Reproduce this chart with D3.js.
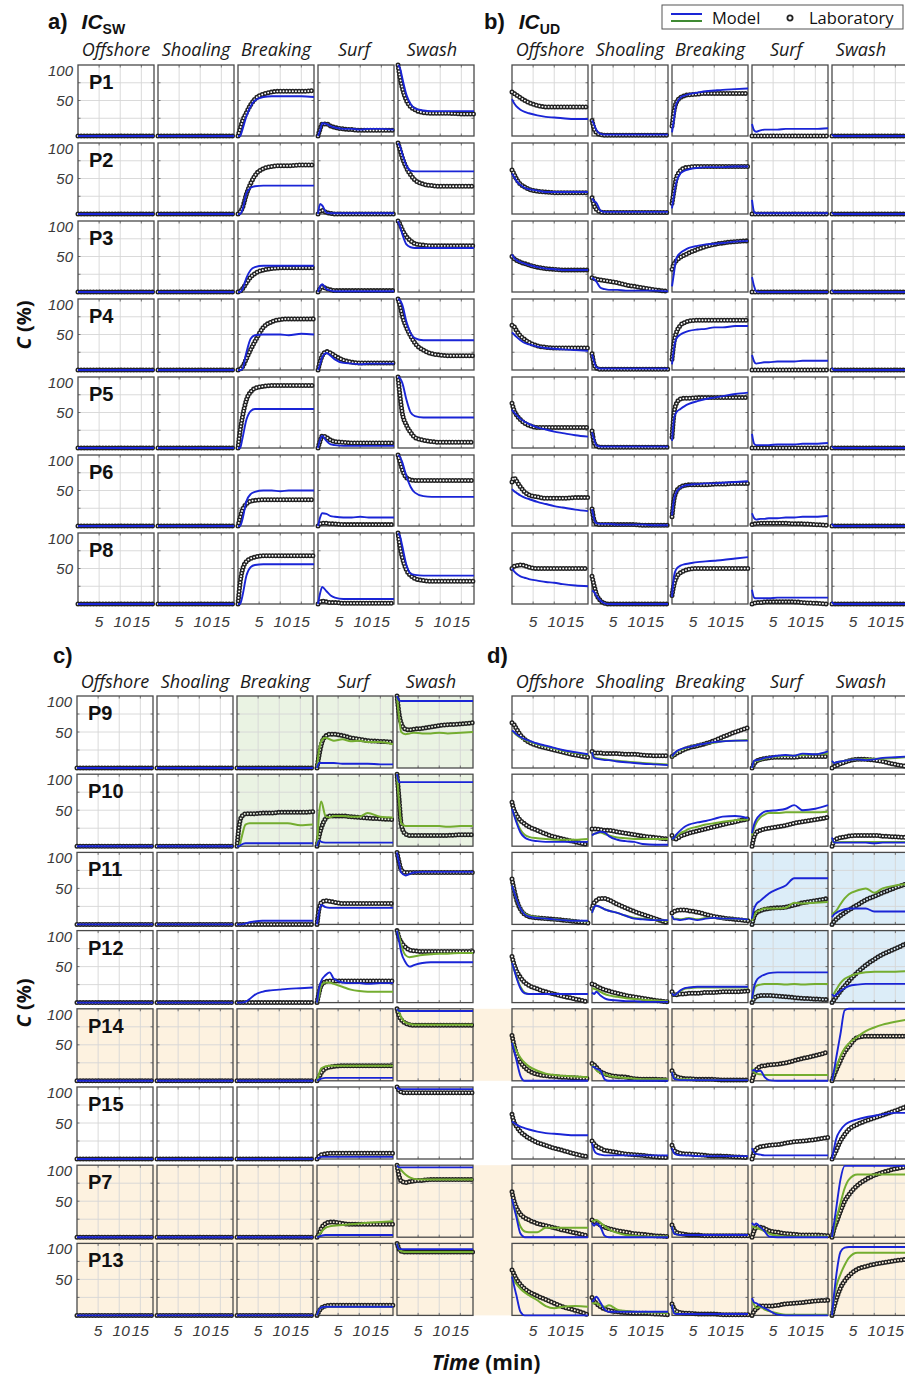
<!DOCTYPE html>
<html><head><meta charset="utf-8">
<script src="https://cdn.jsdelivr.net/npm/d3@7"></script>
<style>body{margin:0;background:#fff}svg{display:block}</style>
</head><body>
<svg id="chart" width="905" height="1378"></svg>
<script>
// ---------- data ----------
const times = [0, 0.5, 1, 2, 3, 4, 6, 8, 10, 12, 15, 18];
const zones = ["Offshore", "Shoaling", "Breaking", "Surf", "Swash"];
const rowsTop = ["P1", "P2", "P3", "P4", "P5", "P6", "P8"];
const rowsBottom = ["P9", "P10", "P11", "P12", "P14", "P15", "P7", "P13"];
const xTickVals = [5, 10, 15];
const yTickVals = [50, 100];
const yGridVals = [25, 50, 75];
const z = [0, 0, 0, 0, 0, 0, 0, 0, 0, 0, 0, 0];

// panel a) IC_SW
const aModel = [
  [z, z, [0,0,8,28,42,50,55,56,56,56,56,55], [0,8,18,17,14,12,10,10,9,10,10,9], [100,95,82,58,45,39,36,35,35,35,35,35]],
  [z, z, [0,0,5,29,37,39,40,40,40,40,40,40], [0,14,12,2,1,1,1,1,1,1,1,1], [100,95,85,68,61,60,60,60,60,60,60,60]],
  [z, z, [0,0,3,20,31,35,37,37,37,37,37,37], [0,8,11,4,2,1,1,1,1,1,1,1], [100,92,82,67,63,62,62,62,62,62,62,62]],
  [z, z, [0,0,1,25,44,49,50,50,50,49,51,50], [0,8,18,24,20,15,10,9,8,9,9,9], [100,98,92,68,52,45,42,42,42,42,42,42]],
  [z, z, [0,0,12,40,52,55,55,55,55,55,55,55], [0,12,17,10,5,4,3,3,3,3,3,3], [100,98,92,68,50,45,43,43,43,43,43,43]],
  [z, z, [0,0,8,35,45,48,50,50,49,50,50,50], [0,12,18,17,14,13,12,12,13,12,12,12], [100,97,90,70,55,47,42,41,41,41,41,41]],
  [z, z, [0,0,10,40,52,55,56,56,56,56,56,56], [0,15,24,18,12,9,7,7,7,7,7,7], [100,95,82,55,43,41,40,40,40,40,40,40]]
];
const aLab = [
  [z, z, [0,10,20,33,44,52,59,62,63,63,63,64], [0,10,17,17,14,12,10,9,8,8,8,8], [100,82,68,50,41,37,33,32,32,32,31,31]],
  [z, z, [0,3,8,28,43,54,64,67,68,68,69,69], [0,4,5,2,1,0,0,0,0,0,0,0], [100,90,80,65,55,48,42,40,39,39,39,39]],
  [z, z, [0,1,4,13,21,26,31,33,34,34,34,34], [0,5,7,5,3,2,2,2,2,2,2,2], [100,95,88,78,72,68,66,65,65,65,65,65]],
  [z, z, [0,1,4,16,29,40,60,68,71,72,72,72], [0,12,20,26,24,20,14,11,10,10,10,10], [100,90,77,60,48,38,28,23,21,20,20,20]],
  [z, z, [0,24,42,68,79,84,87,88,88,88,88,88], [0,10,17,15,11,9,8,7,7,7,7,7], [100,72,50,32,22,15,11,9,8,8,8,8]],
  [z, z, [0,12,22,31,35,36,37,37,37,37,37,37], [0,3,4,4,3,3,2,2,2,2,2,2], [100,90,80,68,65,64,64,64,64,64,64,64]],
  [z, z, [0,30,47,60,64,66,68,68,68,68,68,68], [0,3,4,3,2,2,1,1,1,1,1,1], [100,80,66,48,40,36,33,32,32,32,32,32]]
];

// panel b) IC_UD
const bModel = [
  [[52,46,42,37,34,32,29,27,26,25,24,24], [22,16,9,3,2,2,2,2,2,2,2,2], [5,25,45,54,57,59,61,63,64,65,66,67], [17,8,6,8,9,9,9,10,10,10,10,11], [2,0,0,0,0,0,0,0,0,0,0,0]],
  [[57,52,47,41,37,35,33,31,31,31,31,31], [22,18,16,5,3,3,3,3,3,3,3,3], [8,28,44,57,61,63,65,66,66,66,67,67], [20,3,1,1,1,1,1,1,1,1,1,1], [2,0,0,0,0,0,0,0,0,0,0,0]],
  [[53,48,45,42,40,38,35,33,32,31,31,31], [20,18,15,6,4,3,3,2,2,2,2,1], [8,28,47,55,59,62,65,67,68,69,71,72], [21,8,1,0,0,0,0,0,0,0,0,0], [3,0,0,0,0,0,0,0,0,0,0,0]],
  [[53,50,47,42,38,36,33,31,30,29,28,27], [22,12,4,2,2,2,2,2,2,2,2,2], [8,32,44,50,53,55,57,58,60,60,62,62], [21,12,9,10,11,11,12,12,12,13,13,13], [3,0,0,0,0,0,0,0,0,0,0,0]],
  [[54,50,47,41,37,34,29,26,23,21,18,16], [22,12,4,2,2,2,2,2,2,2,2,2], [10,42,50,55,59,62,66,69,71,73,76,78], [20,6,4,4,4,4,5,5,5,6,6,7], [2,0,0,0,0,0,0,0,0,0,0,0]],
  [[52,49,47,43,40,38,34,31,28,26,23,21], [24,10,4,3,3,3,2,2,2,2,1,1], [15,38,47,54,57,58,59,60,60,61,62,63], [18,11,9,10,10,11,11,12,12,13,13,14], [3,0,0,0,0,0,0,0,0,0,0,0]],
  [[50,46,43,39,37,35,33,31,30,28,26,25], [19,17,12,5,1,0,0,0,0,0,0,0], [10,40,49,54,56,57,59,60,61,62,64,66], [20,9,8,8,8,8,9,9,9,9,9,9], [3,0,0,0,0,0,0,0,0,0,0,0]]
];
const bLab = [
  [[62,60,58,54,50,47,43,41,41,41,41,41], [22,10,5,2,1,1,1,1,1,1,1,1], [14,36,47,54,57,58,59,60,60,60,60,60], z, z],
  [[62,56,50,42,38,35,32,31,30,30,30,30], [23,12,7,3,2,2,2,2,2,2,2,2], [15,34,50,61,65,66,67,67,67,67,67,67], z, z],
  [[50,47,45,42,40,38,35,33,32,31,31,31], [20,19,18,17,16,15,13,10,8,6,3,1], [32,40,44,49,52,55,60,64,67,69,71,72], z, z],
  [[63,61,56,48,43,39,34,32,31,31,31,31], [23,8,3,1,1,1,1,1,1,1,1,1], [15,40,52,63,67,69,70,70,70,70,70,70], z, z],
  [[63,53,47,40,35,32,29,29,29,29,29,29], [24,8,3,1,1,1,1,1,1,1,1,1], [15,50,62,69,70,70,71,71,71,71,71,71], z, z],
  [[62,68,64,55,48,44,41,39,39,39,40,40], [24,8,3,2,2,2,2,2,2,1,1,1], [13,38,48,55,57,58,58,58,59,59,60,60], [2,3,3,4,4,4,4,4,3,3,2,1], z],
  [[50,53,54,55,54,52,50,50,50,50,50,50], [39,26,15,5,1,0,0,0,0,0,0,0], [12,28,37,44,47,49,50,50,50,50,50,50], [0,1,2,2,3,3,3,3,3,2,1,0], z]
];

// panel c)
const cModel = [
  [z, z, z, [0,7,7,7,7,7,6,6,6,6,5,5], [100,94,93,93,93,93,93,93,93,93,93,93]],
  [z, z, [0,0,2,4,4,4,4,4,4,4,4,4], [0,8,6,5,5,5,5,5,5,5,5,5], [100,89,89,89,89,89,89,89,89,89,89,89]],
  [z, z, [0,0,0,1,3,4,5,5,5,5,5,5], [0,18,27,24,23,23,23,23,23,23,23,23], [100,85,72,68,70,72,73,73,73,73,73,73]],
  [z, z, [0,0,0,1,5,10,15,17,18,19,20,21], [0,20,30,38,42,33,28,27,27,26,27,27], [100,85,70,56,50,52,55,56,56,56,56,56]],
  [z, z, z, [0,2,3,4,4,4,4,4,4,4,4,4], [100,97,97,97,97,97,97,97,97,97,97,97]],
  [z, z, z, [0,2,3,3,3,3,3,3,3,3,3,3], [100,97,97,97,97,97,97,97,97,97,97,97]],
  [z, z, z, [0,1,2,3,3,3,3,3,3,3,3,3], [100,97,97,97,97,97,97,97,97,97,97,97]],
  [z, z, z, [0,8,11,12,12,12,12,12,12,12,12,12], [100,92,92,92,92,92,92,92,92,92,92,92]]
];
const cModel2 = [
  [null, null, null, [0,25,37,42,40,38,40,37,38,36,36,33], [100,70,50,47,48,49,48,48,49,48,49,50]],
  [null, null, [0,0,10,30,32,32,32,32,32,32,29,30], [0,45,62,42,40,42,42,41,41,46,41,40], [100,60,32,28,28,28,28,28,28,27,28,28]],
  [null, null, null, null, null],
  [null, null, null, [0,10,24,28,28,26,22,18,16,15,15,15], [100,92,80,66,63,64,66,67,68,68,69,69]],
  [null, null, null, [0,10,17,20,21,21,21,21,21,21,21,21], [100,95,88,81,79,78,78,78,78,78,78,78]],
  [null, null, null, null, null],
  [null, null, null, [0,3,7,13,15,16,17,18,19,20,21,22], [100,97,93,87,83,81,80,80,80,80,80,80]],
  [null, null, null, [0,8,11,12,12,12,12,12,12,12,12,12], [100,92,89,88,88,88,88,88,88,88,88,88]]
];
const cLab = [
  [z, z, z, [0,18,32,44,47,47,45,42,40,38,37,36], [100,75,62,54,53,54,55,57,59,60,61,63]],
  [z, z, [0,28,40,45,45,45,46,46,47,47,47,48], [0,14,25,38,42,42,42,41,40,39,38,37], [100,65,30,17,15,15,15,15,15,15,16,16]],
  [z, z, z, [0,22,30,33,32,31,29,29,29,29,29,29], [100,86,76,72,72,72,72,72,72,72,72,72]],
  [z, z, z, [0,14,24,29,30,30,30,30,30,30,30,30], [100,90,84,77,73,72,71,71,71,71,71,71]],
  [z, z, z, [0,5,11,17,19,20,21,21,21,21,21,21], [100,90,85,80,78,77,77,77,77,77,77,77]],
  [z, z, z, [0,4,6,7,8,8,8,8,8,8,8,8], [100,95,93,92,92,92,92,92,92,92,92,92]],
  [z, z, z, [0,5,12,19,21,21,19,18,18,18,18,18], [100,85,78,76,77,78,79,80,80,80,80,80]],
  [z, z, z, [0,6,10,13,14,14,14,14,14,14,14,14], [100,92,89,88,88,88,88,88,88,88,88,88]]
];

// panel d)
const dModel = [
  [[52,50,47,43,40,38,34,31,28,25,22,19], [22,14,13,12,11,11,9,8,7,6,5,4], [16,20,23,26,28,29,32,34,36,37,38,38], [0,10,11,12,14,15,17,18,17,20,19,23], [10,7,8,9,10,11,12,11,12,14,15,16]],
  [[52,43,34,19,12,9,7,6,6,6,6,6], [15,17,18,20,19,14,9,7,6,3,2,2], [10,12,16,22,27,30,33,35,38,41,42,39], [18,30,37,44,48,49,50,52,57,50,52,57], [12,5,5,5,5,5,5,5,4,5,5,5]],
  [[54,45,36,22,14,11,9,8,7,6,5,5], [16,24,26,24,21,19,16,12,8,7,6,6], [12,7,7,6,7,8,6,8,9,8,8,7], [8,22,28,33,38,43,49,54,64,64,64,64], [10,14,16,19,21,22,22,22,18,18,18,18]],
  [[55,46,36,20,13,12,12,12,12,12,12,12], [14,12,15,10,6,4,3,2,2,1,1,1], [13,10,12,17,20,21,22,22,22,22,22,22], [5,22,30,36,39,41,42,42,42,42,42,42], [12,9,11,16,20,23,25,26,26,26,26,26]],
  [[53,42,30,7,0,0,0,0,0,0,0,0], [20,19,17,14,2,0,0,0,0,0,0,0], [12,3,2,1,1,1,1,1,1,1,1,1], [14,15,13,14,5,1,0,0,0,0,0,0], [0,15,32,65,98,100,100,100,100,100,100,100]],
  [[52,50,48,45,43,41,38,36,35,34,33,33], [22,12,8,6,5,5,5,5,5,5,5,5], [15,8,6,5,5,5,4,4,4,4,4,4], [15,9,7,6,5,5,5,5,5,5,5,5], [0,15,28,40,47,51,55,58,60,62,64,64]],
  [[53,41,29,5,0,0,0,0,0,0,0,0], [20,16,19,14,2,0,0,0,0,0,0,0], [15,5,4,3,3,3,3,3,3,3,3,3], [20,17,19,14,8,1,0,0,0,0,0,0], [0,20,40,80,99,99,99,99,99,99,99,99]],
  [[54,41,29,5,0,0,0,0,0,0,0,0], [19,22,26,18,8,5,5,5,5,5,5,5], [15,3,2,2,2,2,2,2,2,2,2,2], [24,18,17,13,10,7,1,0,0,0,0,0], [0,30,55,88,94,95,95,95,95,95,95,95]]
];
const dModel2 = [
  [[51,49,46,42,39,37,33,30,27,24,21,18], [22,15,14,13,12,11,10,9,8,7,6,5], [15,19,22,25,27,29,32,34,35,37,38,39], [0,9,10,11,13,15,16,17,17,18,19,20], [9,7,8,9,10,11,12,12,13,13,14,15]],
  [[52,44,36,23,16,13,11,10,9,9,9,10], [16,17,18,19,17,15,12,11,10,10,10,10], [10,12,14,18,21,24,27,30,32,34,36,37], [15,25,32,40,44,46,46,47,47,47,47,48], [10,5,5,6,6,6,6,6,6,6,6,6]],
  [[54,45,36,22,15,12,10,8,7,6,5,4], [16,24,26,24,21,19,16,12,9,8,6,5], [12,8,8,7,8,9,7,9,9,8,8,7], [5,12,17,20,22,22,22,23,30,29,30,31], [14,16,19,28,36,42,47,50,44,50,54,56]],
  [[55,46,37,22,14,12,12,12,12,12,12,12], [20,19,18,15,12,10,8,6,5,4,3,2], [13,10,12,16,19,20,21,21,21,21,21,21], [4,18,23,25,26,26,26,25,26,25,26,26], [10,13,18,27,33,36,40,42,43,43,43,44]],
  [[53,48,42,32,25,20,14,10,8,7,6,5], [22,19,15,11,9,7,5,4,3,2,2,2], [12,4,3,2,2,2,1,1,1,1,1,1], [18,12,10,9,8,8,8,8,8,8,8,8], [0,10,18,34,45,52,61,69,74,78,82,85]],
  [null, null, null, null, null],
  [[53,42,32,15,8,7,7,13,13,13,13,13], [22,23,24,20,15,11,6,3,2,1,1,1], [15,6,4,3,3,3,3,3,3,3,3,3], [15,14,13,11,8,5,2,1,1,1,1,1], [0,12,24,47,68,80,87,87,87,87,87,87]],
  [[54,48,44,37,32,28,21,13,10,12,13,12], [17,17,17,14,12,14,8,6,5,4,4,3], [15,4,3,2,2,2,2,2,2,2,2,2], [21,15,10,12,8,6,3,1,1,1,1,1], [0,25,40,57,70,80,87,87,87,87,87,87]]
];
const dLab = [
  [[63,60,55,46,40,36,31,28,25,22,18,15], [23,21,21,21,20,20,20,19,19,18,17,17], [16,18,20,23,26,28,31,34,38,43,50,56], [0,6,9,12,13,14,15,15,15,16,16,16], [0,2,3,6,8,10,12,12,11,9,5,2]],
  [[61,50,44,36,31,27,22,17,13,10,6,2], [24,24,24,23,22,22,20,18,16,14,12,10], [15,10,10,14,16,18,21,24,27,30,34,38], [0,13,19,22,24,25,27,29,32,34,37,40], [0,8,10,12,13,14,15,15,15,14,13,12]],
  [[63,48,36,21,14,11,9,8,7,6,4,2], [22,30,33,36,36,34,28,23,18,14,8,2], [16,18,19,20,20,19,17,14,11,9,7,5], [0,11,16,19,21,22,23,24,27,30,33,36], [0,4,7,12,16,20,27,34,39,44,51,57]],
  [[64,53,45,35,28,24,19,15,12,9,5,1], [26,25,23,20,18,16,13,10,8,6,3,1], [15,11,11,12,12,13,13,14,14,15,15,16], [0,6,8,10,10,10,9,8,7,6,5,4], [0,4,8,16,23,30,42,52,60,67,75,83]],
  [[63,49,38,26,19,14,9,7,6,5,4,3], [24,22,19,13,10,8,6,5,3,2,2,1], [14,8,6,4,3,3,2,2,2,1,1,1], [0,10,15,20,21,22,23,25,28,31,35,40], [0,8,15,28,40,48,60,62,62,62,62,62]],
  [[62,51,46,38,33,29,23,19,15,12,7,3], [25,21,18,15,12,11,9,7,6,5,3,2], [19,12,10,8,7,7,6,5,4,4,3,2], [0,9,14,17,18,19,20,22,24,25,27,30], [0,6,12,25,34,41,48,53,57,61,67,74]],
  [[63,50,42,32,27,24,19,16,13,10,6,2], [24,22,20,17,14,12,9,7,5,4,2,1], [17,10,7,5,4,3,3,2,2,2,2,2], [0,9,14,14,12,9,7,5,4,3,3,2], [0,12,20,36,50,59,72,80,86,90,95,98]],
  [[63,57,51,43,37,33,27,22,17,12,7,1], [25,20,17,12,9,7,5,4,3,3,2,1], [16,9,6,4,3,3,2,2,2,1,1,1], [0,6,9,13,13,13,14,16,17,18,20,21], [0,12,22,38,48,55,64,68,71,73,76,78]]
];

// ---------- drawing ----------
const C_BLUE = "#1a25d6", C_GREEN = "#74ad30", C_LAB = "#222222";
const BG_GREEN = "#eaf3e3", BG_BLUE = "#dcedf8", BG_ORANGE = "#fdf2e0";
const svg = d3.select("#chart");
const CW = 76, CS = 80;
const TICKF = "'Liberation Sans', Arial, sans-serif";
const HEADF = "'Open Sans', 'Liberation Sans', sans-serif";
const DOTS = "0 3.1";

function drawPanel(p) {
  const g = svg.append("g");
  zones.forEach((zn, c) => {
    g.append("text").attr("x", p.x0 + c * CS + CW / 2 + p.hOff[c]).attr("y", p.headY)
      .attr("text-anchor", "middle").attr("font-family", HEADF).attr("font-style", "italic")
      .attr("font-size", 18).attr("fill", "#1a1a1a").text(zn);
  });
  p.rows.forEach((rowName, r) => {
    const top = p.y0 + r * p.rs;
    zones.forEach((zn, c) => {
      const left = p.x0 + c * CS;
      const x = d3.scaleLinear().domain([0, 18]).range([left, left + CW]);
      const y = d3.scaleLinear().domain([0, 100]).range([top + p.h, top]);
      const bg = p.bg(r, c);
      const cg = g.append("g");
      cg.append("rect").attr("x", left).attr("y", top).attr("width", CW).attr("height", p.h)
        .attr("fill", bg);
      xTickVals.forEach(t => {
        cg.append("line").attr("x1", x(t)).attr("x2", x(t)).attr("y1", top).attr("y2", top + p.h)
          .attr("stroke", "#d6d6d6").attr("stroke-width", 0.9);
        cg.append("line").attr("x1", x(t)).attr("x2", x(t)).attr("y1", top + p.h).attr("y2", top + p.h - 2.5)
          .attr("stroke", "#555").attr("stroke-width", 0.8);
        cg.append("line").attr("x1", x(t)).attr("x2", x(t)).attr("y1", top).attr("y2", top + 2.5)
          .attr("stroke", "#555").attr("stroke-width", 0.8);
      });
      yGridVals.forEach(v => {
        cg.append("line").attr("x1", left).attr("x2", left + CW).attr("y1", y(v)).attr("y2", y(v))
          .attr("stroke", "#d6d6d6").attr("stroke-width", 0.9);
        cg.append("line").attr("x1", left).attr("x2", left + 2.5).attr("y1", y(v)).attr("y2", y(v))
          .attr("stroke", "#555").attr("stroke-width", 0.8);
        cg.append("line").attr("x1", left + CW - 2.5).attr("x2", left + CW).attr("y1", y(v)).attr("y2", y(v))
          .attr("stroke", "#555").attr("stroke-width", 0.8);
      });
      cg.append("rect").attr("x", left).attr("y", top).attr("width", CW).attr("height", p.h)
        .attr("fill", "none").attr("stroke", "#4a4a4a").attr("stroke-width", 1.3);

      const line = d3.line().x((d, i) => x(times[i])).y(d => y(d)).curve(d3.curveMonotoneX);
      const lab = p.lab[r][c];
      if (lab) {
        cg.append("path").attr("d", line(lab)).attr("fill", "none").attr("stroke", C_LAB)
          .attr("stroke-width", 5).attr("stroke-linecap", "round").attr("stroke-dasharray", DOTS);
        cg.append("path").attr("d", line(lab)).attr("fill", "none").attr("stroke", bg)
          .attr("stroke-width", 1.9).attr("stroke-linecap", "round").attr("stroke-dasharray", DOTS);
      }
      const gr = p.green && p.green[r] ? p.green[r][c] : null;
      if (gr) {
        cg.append("path").attr("d", line(gr)).attr("fill", "none").attr("stroke", C_GREEN)
          .attr("stroke-width", 2);
      }
      const bl = p.blue[r][c];
      if (bl) {
        cg.append("path").attr("d", line(bl)).attr("fill", "none").attr("stroke", C_BLUE)
          .attr("stroke-width", 1.9);
      }
      if (p.yLabels && c === 0) {
        cg.append("text").attr("x", left - 5).attr("y", top + 11).attr("text-anchor", "end")
          .attr("font-family", TICKF).attr("font-style", "italic").attr("font-size", 15)
          .attr("fill", "#3a3a3a").text(yTickVals[1]);
        cg.append("text").attr("x", left - 5).attr("y", y(yTickVals[0]) + 5.5).attr("text-anchor", "end")
          .attr("font-family", TICKF).attr("font-style", "italic").attr("font-size", 15)
          .attr("fill", "#3a3a3a").text(yTickVals[0]);
        cg.append("text").attr("x", left + 11).attr("y", top + 24)
          .attr("font-family", TICKF).attr("font-weight", "bold").attr("font-size", 20)
          .attr("fill", "#111").text(rowName);
      }
      if (r === p.rows.length - 1) {
        xTickVals.forEach(t => {
          cg.append("text").attr("x", x(t) + (t === 10 ? 2 : 0)).attr("y", p.xTickY).attr("text-anchor", "middle")
            .attr("font-family", TICKF).attr("font-style", "italic").attr("font-size", 15.5)
            .attr("fill", "#3a3a3a").text(t);
        });
      }
    });
  });
}

// orange bands in lower half
const bandRows = [[4, 4], [6, 7]];
bandRows.forEach(([r0, r1]) => {
  svg.append("rect").attr("x", 77).attr("y", 696 + r0 * 78.2).attr("width", 830)
    .attr("height", (r1 - r0) * 78.2 + 72).attr("fill", BG_ORANGE);
});

const orangeBg = (r) => (r === 4 || r === 6 || r === 7) ? BG_ORANGE : "#ffffff";

drawPanel({ x0: 78, y0: 65, rs: 78, h: 71, rows: rowsTop, blue: aModel, green: null, lab: aLab,
  bg: () => "#ffffff", yLabels: true, headY: 55.5, xTickY: 627, hOff: [0, 0, 0, -2, -4] });
drawPanel({ x0: 512, y0: 65, rs: 78, h: 71, rows: rowsTop, blue: bModel, green: null, lab: bLab,
  bg: () => "#ffffff", yLabels: false, headY: 55.5, xTickY: 627, hOff: [0, 0, 0, -4, -9] });
drawPanel({ x0: 77, y0: 696, rs: 78.2, h: 72, rows: rowsBottom, blue: cModel, green: cModel2, lab: cLab,
  bg: (r, c) => (r <= 1 && c >= 2) ? BG_GREEN : orangeBg(r), yLabels: true, headY: 688, xTickY: 1336, hOff: [0, 0, 0, -2, -4] });
drawPanel({ x0: 512, y0: 696, rs: 78.2, h: 72, rows: rowsBottom, blue: dModel, green: dModel2, lab: dLab,
  bg: (r, c) => (r >= 2 && r <= 3 && c >= 3) ? BG_BLUE : orangeBg(r), yLabels: false, headY: 688, xTickY: 1336, hOff: [0, 0, 0, -4, -9] });

// panel titles
function title(x, y, letter, sub) {
  const t = svg.append("text").attr("x", x).attr("y", y).attr("font-family", TICKF)
    .attr("font-weight", "bold").attr("fill", "#111");
  t.append("tspan").attr("font-size", 22).text(letter);
  if (sub) {
    t.append("tspan").attr("dx", 14).attr("font-size", 21).attr("font-style", "italic").text("IC");
    t.append("tspan").attr("dy", 5).attr("font-size", 14).text(sub);
  }
}
title(48, 29, "a)", "SW");
title(484, 29, "b)", "UD");
title(53, 663, "c)", null);
title(487, 663, "d)", null);

// legend
const lg = svg.append("g");
lg.append("rect").attr("x", 662).attr("y", 5).attr("width", 241).attr("height", 24)
  .attr("fill", "#fff").attr("stroke", "#555").attr("stroke-width", 1);
lg.append("line").attr("x1", 671).attr("x2", 702).attr("y1", 14).attr("y2", 14).attr("stroke", C_BLUE).attr("stroke-width", 2);
lg.append("line").attr("x1", 671).attr("x2", 702).attr("y1", 21).attr("y2", 21).attr("stroke", "#3f8a33").attr("stroke-width", 2);
lg.append("text").attr("x", 712).attr("y", 24).attr("font-family", HEADF).attr("font-size", 16.5).attr("fill", "#111").text("Model");
lg.append("circle").attr("cx", 790).attr("cy", 18).attr("r", 2.6).attr("fill", "#fff").attr("stroke", C_LAB).attr("stroke-width", 1.8);
lg.append("text").attr("x", 809).attr("y", 24).attr("font-family", HEADF).attr("font-size", 16.5).attr("fill", "#111").text("Laboratory");

// axis labels
[325, 1003].forEach(cy => {
  const t = svg.append("text").attr("transform", `translate(31,${cy}) rotate(-90)`).attr("text-anchor", "middle")
    .attr("font-family", HEADF).attr("font-weight", "bold").attr("font-size", 20).attr("fill", "#111");
  t.append("tspan").attr("font-style", "italic").text("C");
  t.append("tspan").text(" (%)");
});
const tl = svg.append("text").attr("x", 486).attr("y", 1370).attr("text-anchor", "middle")
  .attr("font-family", HEADF).attr("font-weight", "bold").attr("font-size", 21).attr("fill", "#111");
tl.append("tspan").attr("font-style", "italic").text("Time");
tl.append("tspan").text(" (min)");
</script>
</body></html>
